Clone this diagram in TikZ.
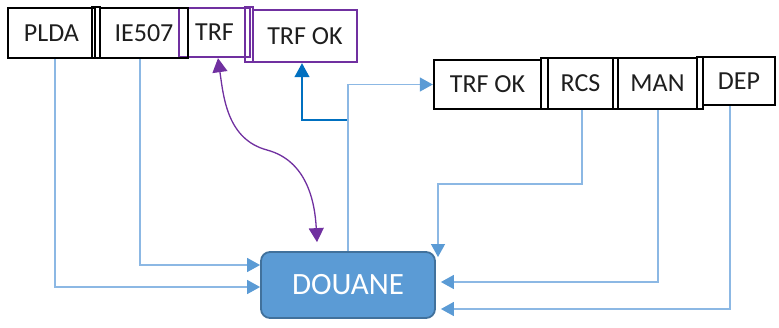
\documentclass[tikz,border=0pt]{standalone}
\usepackage{fontspec}
\setmainfont{Carlito}
\usetikzlibrary{arrows.meta}
\definecolor{lineblue}{RGB}{140,184,228}
\definecolor{tipblue}{RGB}{91,155,213}
\definecolor{darkblue}{RGB}{0,112,192}
\definecolor{purp}{RGB}{112,48,160}
\definecolor{douanefill}{RGB}{91,155,213}
\definecolor{douaneline}{RGB}{65,113,156}
\definecolor{txt}{RGB}{30,30,30}
\tikzset{
  lab/.style={draw=black, line width=2.4pt, minimum width=#1, inner sep=0pt, text=txt,
    font=\fontsize{26}{30}\selectfont},
  plab/.style={draw=purp, line width=2.4pt, minimum width=#1, inner sep=0pt, text=txt,
    font=\fontsize{26}{30}\selectfont},
  sepbox/.style={draw=black, line width=2.4pt, minimum width=#1, inner sep=0pt},
  psepbox/.style={draw=purp, line width=2.4pt, minimum width=#1, inner sep=0pt},
  conn/.style={draw=lineblue, line width=1.4pt, -{Triangle[width=14pt,length=13pt,color=tipblue]}},
  dconn/.style={draw=darkblue, line width=1.3pt, -{Triangle[width=15pt,length=14pt,color=darkblue]}},
  pconn/.style={draw=purp, line width=1.3pt, {Triangle[width=15pt,length=14pt]}-{Triangle[width=15pt,length=14pt]}},
}
\begin{document}
\begin{tikzpicture}[x=1pt,y=-1pt]
\useasboundingbox (0,0) rectangle (779,327);
% top-left row
\node[plab=71pt, minimum height=49pt] (TRF) at (214.5,32.5) {TRF};
\node[lab=87pt, minimum height=50pt] (PLDA) at (51.5,33) {PLDA};
\node[sepbox=8pt, minimum height=51pt] (s1) at (96,32.5) {};
\node[lab=88pt, minimum height=50pt] (IE) at (144,33) {IE507};
\node[plab=104pt, minimum height=52pt] (TOK1) at (305,36) {TRF OK};
\node[psepbox=8pt, minimum height=55pt] (s2) at (249,34.5) {};
% right row
\node[lab=107pt, minimum height=49pt] (TOK2) at (487.5,84.5) {TRF OK};
\node[sepbox=7pt, minimum height=51pt] (s3) at (544.5,83.5) {};
\node[lab=65pt, minimum height=51pt] (RCS) at (580.5,83.5) {RCS};
\node[sepbox=5pt, minimum height=51pt] (s4) at (615.5,83.5) {};
\node[lab=79pt, minimum height=51pt] (MAN) at (657.5,83.5) {MAN};
\node[sepbox=6pt, minimum height=52pt] (s5) at (700,83) {};
\node[lab=72pt, minimum height=48pt] (DEP) at (739,81) {DEP};
% DOUANE
\node[draw=douaneline, fill=douanefill, line width=1.8pt, rounded corners=9pt,
  minimum width=174pt, minimum height=66pt, text=white,
  font=\fontsize{31}{35}\selectfont] (D) at (348,285) {DOUANE};
% coordinates
\coordinate (cP) at (55,287);
\coordinate (cI) at (140,265);
\coordinate (cT) at (218,0);
\coordinate (cTe) at (317,0);
\coordinate (cJ) at (302,120);
\coordinate (cR) at (582,184);
\coordinate (cRt) at (438,257);
\coordinate (cM) at (658,282);
\coordinate (cE) at (730,309);
% left connectors
\draw[conn] (PLDA.south -| cP) |- (D.west |- cP);
\draw[conn] (IE.south -| cI) |- (D.west |- cI);
% purple curve
\draw[pconn] (TRF.south -| cT) to[out=-82,in=165] (267,150) to[out=-15,in=93] ([yshift=9pt]D.north -| cTe);
% blue TRF OK connectors
\draw[dconn] (D.north) -- (D.north |- cJ) -| (TOK1.south -| cJ);
\draw[conn] (D.north) |- (TOK2.west);
% right connectors
\draw[conn] (RCS.south -| cR) |- (cRt |- cR) -- (cRt);
\draw[conn] (MAN.south -| cM) |- ([xshift=5pt]D.east |- cM);
\draw[conn] (DEP.south -| cE) |- ([xshift=5pt]D.east |- cE);
\end{tikzpicture}
\end{document}
